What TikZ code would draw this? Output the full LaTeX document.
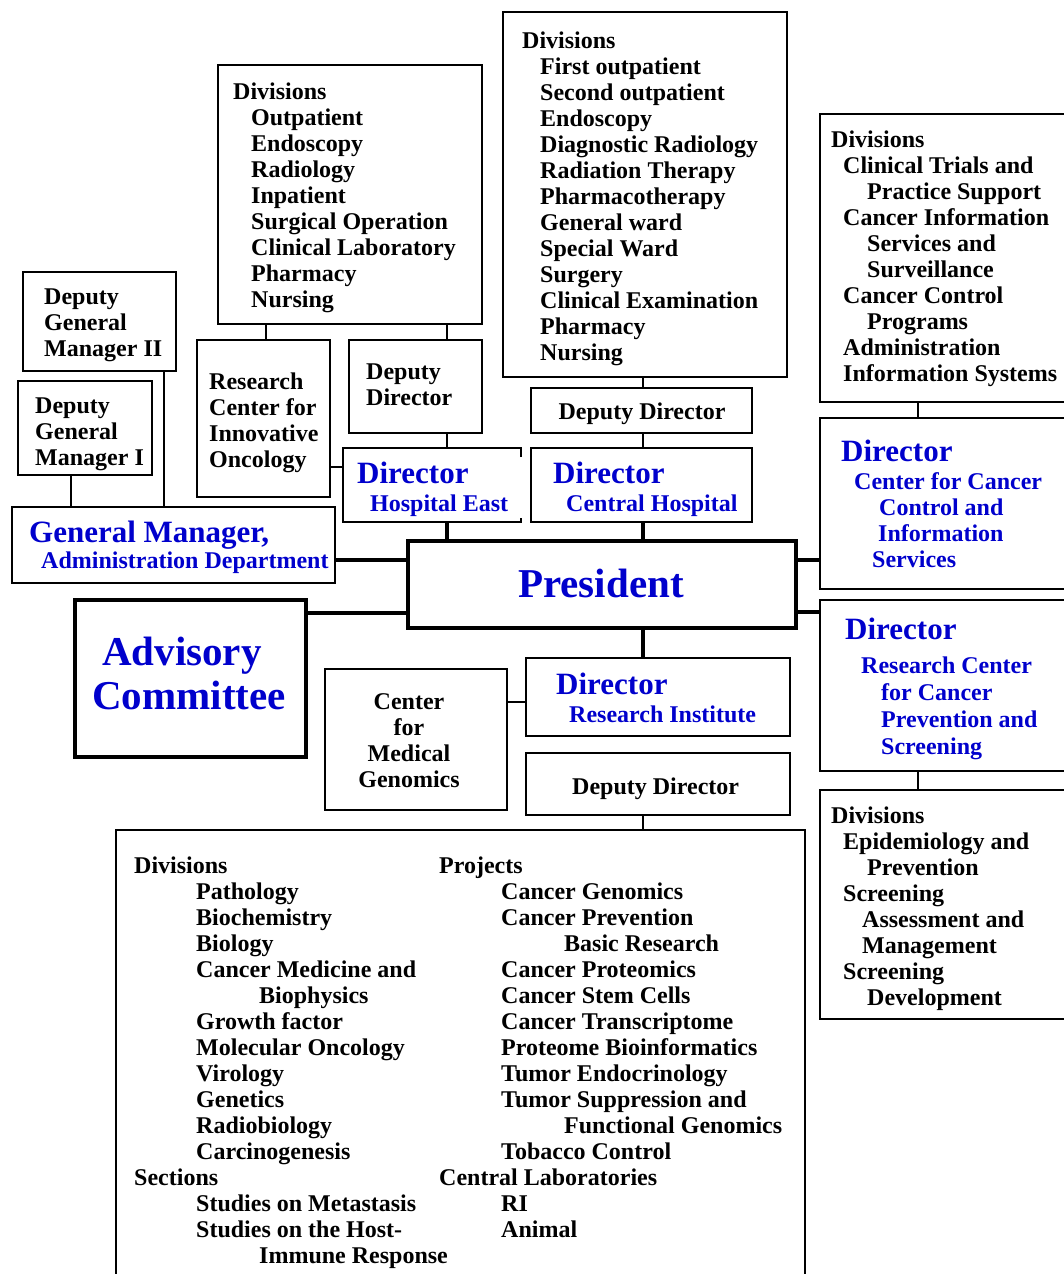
\documentclass[tikz,border=0pt]{standalone}
\usepackage{fontspec}
\setmainfont{Liberation Serif}
\definecolor{nccblue}{RGB}{0,0,204}
\newcommand\fsA{\fontsize{24}{26}\selectfont\bfseries}
\newcommand\fsB{\fontsize{31}{33}\selectfont\bfseries}
\newcommand\fsC{\fontsize{41}{44}\selectfont\bfseries}
\newcommand\obox[6]{\node[#6, anchor=north west, minimum width={(#4-#2)*1pt}, minimum height={(#5-#3)*1pt}] (#1) at (#2,#3) {};}
\newcommand\ind[1]{\hspace*{#1pt}}
\tikzset{
  thinbox/.style={draw, line width=2pt, inner sep=0pt, outer sep=0pt},
  thickbox/.style={draw, line width=4.5pt, inner sep=0pt, outer sep=0pt},
  nobox/.style={inner sep=0pt, outer sep=0pt},
  conn/.style={line width=2pt},
  tconn/.style={line width=4.5pt},
  txt/.style={inner sep=0pt, anchor=base west, align=left, font=\fsA},
  btxt/.style={txt, text=nccblue},
  bbig/.style={txt, text=nccblue, font=\fsB},
  bhuge/.style={inner sep=0pt, anchor=base, text=nccblue, font=\fsC},
}
\begin{document}
\begin{tikzpicture}[x=1pt,y=-1pt]
\useasboundingbox (0,0) rectangle (1064,1274);
\clip (0,0) rectangle (1064,1274);
% boxes
\obox{cdiv}{503}{12}{787}{377}{thinbox}
\obox{ediv}{218}{65}{482}{324}{thinbox}
\obox{rdiv}{820}{114}{1075}{402}{thinbox}
\obox{dgmii}{23}{272}{176}{371}{thinbox}
\obox{dgmi}{18}{381}{152}{475}{thinbox}
\obox{rcio}{197}{340}{330}{497}{thinbox}
\obox{edep}{349}{340}{482}{433}{thinbox}
\obox{cdep}{531}{388}{752}{433}{thinbox}
\obox{dire}{343}{448}{521}{522}{nobox}
\draw[line width=2pt] ([yshift=-9pt]dire.north east) -- (dire.north east) -- (dire.north west) -- (dire.south west) -- (dire.south east) -- ([yshift=4pt]dire.south east);
\obox{dirc}{531}{448}{752}{522}{thinbox}
\obox{gm}{12}{507}{335}{583}{thinbox}
\obox{pres}{408}{541}{796}{628}{thickbox}
\obox{adv}{75}{600}{306}{757}{thickbox}
\obox{cccis}{820}{418}{1075}{589}{thinbox}
\obox{rccps}{820}{600}{1075}{771}{thinbox}
\obox{rbdiv}{820}{790}{1075}{1019}{thinbox}
\obox{cmg}{325}{669}{507}{810}{thinbox}
\obox{dirri}{526}{658}{790}{736}{thinbox}
\obox{depri}{526}{753}{790}{815}{thinbox}
\obox{rbig}{116}{830}{805}{1290}{thinbox}
% connectors
\draw[conn] (dgmii.south -| 164,0) -- (gm.north -| 164,0);
\draw[conn] (dgmi.south -| 71,0) -- (gm.north -| 71,0);
\draw[conn] (ediv.south -| 266,0) -- (rcio.north -| 266,0);
\draw[conn] (ediv.south -| 447,0) -- (edep.north -| 447,0);
\draw[conn] (edep.south -| 447,0) -- (dire.north -| 447,0);
\draw[conn] (rcio.east |- 0,467) -- (dire.west |- 0,467);
\draw[conn] (cdiv.south -| 643,0) -- (cdep.north -| 643,0);
\draw[conn] (cdep.south -| 643,0) -- (dirc.north -| 643,0);
\draw[tconn] (dire.south -| 447,0) -- (pres.north -| 447,0);
\draw[tconn] (dirc.south -| 643,0) -- (pres.north -| 643,0);
\draw[tconn] (gm.east |- 0,560) -- (pres.west |- 0,560);
\draw[tconn] (adv.east |- 0,613) -- (pres.west |- 0,613);
\draw[tconn] (pres.east |- 0,560) -- (cccis.west |- 0,560);
\draw[tconn] (pres.east |- 0,612) -- (rccps.west |- 0,612);
\draw[conn] (rdiv.south -| 918,0) -- (cccis.north -| 918,0);
\draw[conn] (rccps.south -| 918,0) -- (rbdiv.north -| 918,0);
\draw[tconn] (pres.south -| 643,0) -- (dirri.north -| 643,0);
\draw[conn] (cmg.east |- 0,702) -- (dirri.west |- 0,702);
\draw[conn] (depri.south -| 643,0) -- (rbig.north -| 643,0);
% texts (multi-line nodes are anchored at the baseline of their last line)
\node[txt] (tcdiv) at (522,360) {Divisions\\\ind{18}First outpatient\\\ind{18}Second outpatient\\\ind{18}Endoscopy\\\ind{18}Diagnostic Radiology\\\ind{18}Radiation Therapy\\\ind{18}Pharmacotherapy\\\ind{18}General ward\\\ind{18}Special Ward\\\ind{18}Surgery\\\ind{18}Clinical Examination\\\ind{18}Pharmacy\\\ind{18}Nursing};
\node[txt] (tediv) at (233,307) {Divisions\\\ind{18}Outpatient\\\ind{18}Endoscopy\\\ind{18}Radiology\\\ind{18}Inpatient\\\ind{18}Surgical Operation\\\ind{18}Clinical Laboratory\\\ind{18}Pharmacy\\\ind{18}Nursing};
\node[txt] (trdiv) at (831,381) {Divisions\\\ind{12}Clinical Trials and\\\ind{36}Practice Support\\\ind{12}Cancer Information\\\ind{36}Services and\\\ind{36}Surveillance\\\ind{12}Cancer Control\\\ind{36}Programs\\\ind{12}Administration\\\ind{12}Information Systems};
\node[txt] (tdgmii) at (44,356) {Deputy\\General\\Manager II};
\node[txt] (tdgmi) at (35,465) {Deputy\\General\\Manager I};
\node[txt] (trcio) at (209,467) {Research\\Center for\\Innovative\\Oncology};
\node[txt] (tedep) at (366,405) {Deputy\\Director};
\node[txt, anchor=base] (tcdep) at (642,419) {Deputy Director};
\node[bbig] (tdire) at (357,483) {Director};
\node[btxt] (tdire2) at (370,511) {Hospital East};
\node[bbig] (tdirc) at (553,483) {Director};
\node[btxt] (tdirc2) at (566,511) {Central Hospital};
\node[bbig] (tgm) at (29,542) {General Manager,};
\node[btxt] (tgm2) at (41,568) {Administration Department};
\node[bhuge] (tpres) at (601,597) {President};
\node[bhuge, anchor=base west] (tadv) at (102,665) {Advisory};
\node[bhuge, anchor=base west] (tadv2) at (92,709) {Committee};
\node[txt, align=center, anchor=base] (tcmg) at (409,787) {Center\\for\\Medical\\Genomics};
\node[bbig] (tdirri) at (556,694) {Director};
\node[btxt] (tdirri2) at (569,722) {Research Institute};
\node[txt] (tdepri) at (572,794) {Deputy Director};
\node[bbig] (tcccis) at (841,461) {Director};
\node[btxt] (tcccis2) at (854,567) {Center for Cancer\\\ind{25}Control and\\\ind{24}Information\\\ind{18}Services};
\node[bbig] (trccps) at (845,639) {Director};
\node[btxt, font=\fontsize{24}{27}\selectfont\bfseries] (trccps2) at (861,754) {Research Center\\\ind{20}for Cancer\\\ind{20}Prevention and\\\ind{20}Screening};
\node[txt] (trbdiv) at (831,1005) {Divisions\\\ind{12}Epidemiology and\\\ind{36}Prevention\\\ind{12}Screening\\\ind{31}Assessment and\\\ind{31}Management\\\ind{12}Screening\\\ind{36}Development};
\node[txt] (tbigl) at (134,1263) {Divisions\\\ind{62}Pathology\\\ind{62}Biochemistry\\\ind{62}Biology\\\ind{62}Cancer Medicine and\\\ind{125}Biophysics\\\ind{62}Growth factor\\\ind{62}Molecular Oncology\\\ind{62}Virology\\\ind{62}Genetics\\\ind{62}Radiobiology\\\ind{62}Carcinogenesis\\Sections\\\ind{62}Studies on Metastasis\\\ind{62}Studies on the Host-\\\ind{125}Immune Response};
\node[txt] (tbigr) at (439,1237) {Projects\\\ind{62}Cancer Genomics\\\ind{62}Cancer Prevention\\\ind{125}Basic Research\\\ind{62}Cancer Proteomics\\\ind{62}Cancer Stem Cells\\\ind{62}Cancer Transcriptome\\\ind{62}Proteome Bioinformatics\\\ind{62}Tumor Endocrinology\\\ind{62}Tumor Suppression and\\\ind{125}Functional Genomics\\\ind{62}Tobacco Control\\Central Laboratories\\\ind{62}RI\\\ind{62}Animal};
\end{tikzpicture}
\end{document}
